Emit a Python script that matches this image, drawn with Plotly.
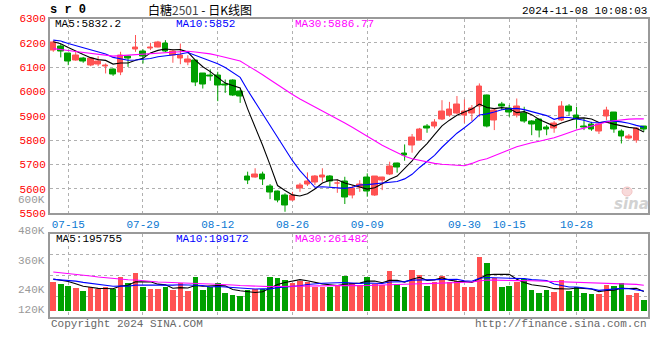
import numpy as np
import plotly.graph_objects as go

# ---------------- data ----------------
dates = ["07-11", "07-12", "07-15", "07-16", "07-17", "07-18", "07-19", "07-22", "07-23", "07-24",
         "07-25", "07-26", "07-29", "07-30", "07-31", "08-01", "08-02", "08-05", "08-06", "08-07",
         "08-08", "08-09", "08-12", "08-13", "08-14", "08-15", "08-16", "08-19", "08-20", "08-21",
         "08-22", "08-23", "08-26", "08-27", "08-28", "08-29", "08-30", "09-02", "09-03", "09-04",
         "09-05", "09-06", "09-09", "09-10", "09-11", "09-12", "09-13", "09-18", "09-19", "09-20",
         "09-23", "09-24", "09-25", "09-26", "09-27", "09-30", "10-08", "10-09", "10-10", "10-11",
         "10-14", "10-15", "10-16", "10-17", "10-18", "10-21", "10-22", "10-23", "10-24", "10-25",
         "10-28", "10-29", "10-30", "10-31", "11-01", "11-04", "11-05", "11-06", "11-07", "11-08"]

open_ = [6170, 6185, 6156, 6129, 6136, 6105, 6112, 6104, 6091, 6077,
         6142, 6173, 6166, 6178, 6182, 6197, 6149, 6136, 6118, 6126,
         6074, 6066, 6067, 6029, 6047, 5998, 5649, 5647, 5660, 5608,
         5587, 5574, 5553, 5599, 5619, 5624, 5645, 5649, 5620, 5631,
         5574, 5605, 5647, 5571, 5633, 5660, 5704, 5745, 5776, 5800,
         5855, 5857, 5885, 5903, 5910, 5903, 5910, 5937, 5985, 5879,
         5948, 5930, 5899, 5910, 5875, 5886, 5852, 5848, 5882, 5937,
         5903, 5854, 5866, 5834, 5896, 5912, 5834, 5805, 5797, 5855]
high = [6209, 6195, 6156, 6163, 6142, 6142, 6145, 6115, 6095, 6163,
        6149, 6232, 6173, 6200, 6208, 6211, 6173, 6197, 6149, 6126,
        6074, 6091, 6081, 6049, 6050, 6008, 5670, 5684, 5670, 5619,
        5592, 5581, 5587, 5624, 5667, 5656, 5684, 5656, 5638, 5649,
        5615, 5635, 5663, 5652, 5649, 5711, 5707, 5782, 5825, 5850,
        5866, 5886, 5964, 5957, 5981, 5967, 5944, 6033, 5987, 5930,
        5957, 5944, 5971, 5937, 5882, 5886, 5862, 5878, 5960, 5948,
        5937, 5889, 5875, 5869, 5937, 5912, 5844, 5825, 5852, 5858]
low = [6163, 6140, 6108, 6126, 6118, 6104, 6104, 6074, 6064, 6067,
       6101, 6163, 6115, 6170, 6181, 6162, 6118, 6112, 6108, 6022,
       6012, 6044, 5960, 5994, 5981, 5953, 5619, 5645, 5615, 5557,
       5544, 5505, 5550, 5587, 5611, 5615, 5629, 5608, 5583, 5537,
       5560, 5587, 5567, 5570, 5594, 5656, 5666, 5715, 5748, 5798,
       5830, 5848, 5882, 5896, 5907, 5871, 5878, 5896, 5852, 5841,
       5923, 5896, 5893, 5871, 5820, 5811, 5820, 5830, 5878, 5899,
       5848, 5841, 5838, 5825, 5882, 5830, 5786, 5803, 5789, 5834]
close = [6201, 6166, 6122, 6146, 6125, 6136, 6125, 6106, 6070, 6149,
         6136, 6181, 6145, 6182, 6200, 6166, 6163, 6149, 6132, 6035,
         6029, 6062, 6023, 6023, 5985, 5978, 5633, 5660, 5636, 5583,
         5553, 5530, 5571, 5612, 5631, 5649, 5653, 5629, 5622, 5563,
         5601, 5619, 5587, 5649, 5645, 5693, 5686, 5738, 5811, 5844,
         5848, 5871, 5919, 5927, 5945, 5916, 5930, 6022, 5855, 5923,
         5937, 5912, 5937, 5875, 5862, 5838, 5844, 5869, 5937, 5916,
         5885, 5850, 5845, 5866, 5923, 5844, 5814, 5814, 5848, 5844]

# volume, in thousands (K)
volume_k = [294, 271, 250, 227, 200, 237, 217, 243, 217, 339,
            278, 385, 243, 220, 220, 243, 210, 278, 200, 345,
            210, 237, 284, 183, 159, 149, 210, 220, 220, 345,
            335, 311, 284, 301, 288, 243, 243, 240, 261, 352,
            284, 261, 339, 271, 261, 403, 271, 243, 413, 362,
            250, 294, 352, 294, 304, 240, 240, 548, 487, 329,
            237, 250, 294, 321, 210, 183, 210, 193, 311, 200,
            237, 183, 169, 169, 264, 250, 284, 159, 176, 108]

# warm-up values before the visible window (estimated from the MA lines' starting levels)
prior_close = [6250, 6260, 6270, 6255, 6245, 6250, 6262, 6120, 6090, 6080,
               6100, 6110, 6095, 6105, 6100, 6110, 6120, 6100, 6115, 6130,
               6200, 6225, 6230, 6215, 6220, 6205, 6200, 6210, 6205]
prior_volume_k = [470, 495, 510, 460, 480, 500, 465, 490, 475, 485,
                  470, 480, 490, 340, 320, 335, 330, 345, 325, 335,
                  310, 320, 305, 325, 315, 330, 320, 335, 327]

date_ticks = ["07-15", "07-29", "08-12", "08-26", "09-09", "09-30", "10-15", "10-28"]
price_ticks = [5500, 5600, 5700, 5800, 5900, 6000, 6100, 6200, 6300]
vol_tick_text = ["600K", "480K", "360K", "240K", "120K"]

title_text = "白糖<span style='color:#444'>2501</span> - 日K线图"
symbol_text = "s r 0"
time_text = "2024-11-08 10:08:03"
ma_price_text = ["MA5:5832.2", "MA10:5852", "MA30:5886.77"]
ma_vol_text = ["MA5:195755", "MA10:199172", "MA30:261482"]

# ---------------- derived ----------------
n = len(close)
x = np.arange(n)
o = np.array(open_, float); c = np.array(close, float)
h = np.array(high, float); l = np.array(low, float)
v = np.array(volume_k, float)
up = c >= o

def moving(prior, vals, w):
    full = np.concatenate([np.array(prior, float), np.array(vals, float)])
    off = len(prior)
    return [full[k - w + 1:k + 1].mean() for k in range(off, off + len(vals))]

RED = "#ff5252"
GREEN = "#00a000"
MA_COLORS = ["#000000", "#0000ff", "#ff00ff"]
MONO = "Liberation Mono"

fig = go.Figure()

# candle bodies
for mask, col in ((up, RED), (~up, GREEN)):
    idx = x[mask]
    fig.add_trace(go.Bar(x=idx, y=(c - o)[mask], base=o[mask], width=0.76,
                         marker=dict(color=col, line=dict(color=col, width=1)),
                         xaxis="x", yaxis="y", showlegend=False, hoverinfo="skip"))
# wicks
for mask, col in ((up, RED), (~up, GREEN)):
    wx, wy = [], []
    for i in x[mask]:
        wx += [i, i, None]
        wy += [l[i], h[i], None]
    fig.add_trace(go.Scatter(x=wx, y=wy, mode="lines", line=dict(color=col, width=1),
                             xaxis="x", yaxis="y", showlegend=False, hoverinfo="skip"))
# price MAs
for w, col in zip((5, 10, 30), MA_COLORS):
    fig.add_trace(go.Scatter(x=x, y=moving(prior_close, close, w), mode="lines",
                             line=dict(color=col, width=1.1), xaxis="x", yaxis="y",
                             showlegend=False, hoverinfo="skip"))

# volume bars
for mask, col in ((up, RED), (~up, GREEN)):
    fig.add_trace(go.Bar(x=x[mask], y=v[mask], width=0.75,
                         marker=dict(color=col, line=dict(width=0)),
                         xaxis="x2", yaxis="y2", showlegend=False, hoverinfo="skip"))
for w, col in zip((5, 10, 30), MA_COLORS):
    fig.add_trace(go.Scatter(x=x, y=moving(prior_volume_k, volume_k, w), mode="lines",
                             line=dict(color=col, width=1.1), xaxis="x2", yaxis="y2",
                             showlegend=False, hoverinfo="skip"))

# ---------------- layout ----------------
W, H = 660, 360
L, R, T, B = 50, 10, 18, 43
PW, PH = W - L - R, H - T - B

def xp(px):
    return (px - L) / PW

def yp(py):
    return (H - B - py) / PH

xr = [-0.44, n - 0.44]
vol_range = [-(317 - 310.7) * 10.14, (310.7 - 234) * 10.14]
vol_grid = [vol_range[0] + (vol_range[1] - vol_range[0]) * f for f in (0.25, 0.5, 0.75)]
tickpos = [dates.index(d) for d in date_ticks]

frame = dict(showline=True, linecolor="#999999", linewidth=2, mirror=True, zeroline=False)
grid = dict(showgrid=True, gridcolor="#b0b0b0", griddash="dot", gridwidth=1)

fig.update_layout(
    width=W, height=H, margin=dict(l=L, r=R, t=T, b=B, pad=0),
    paper_bgcolor="white", plot_bgcolor="white", barmode="overlay", bargap=0,
    xaxis=dict(domain=[0, 1], range=xr, anchor="y", tickvals=tickpos, ticktext=date_ticks,
               tickfont=dict(family=MONO, size=11, color="#0a78d2"), ticks="",
               **grid, **frame),
    yaxis=dict(domain=[yp(213), yp(18.5)], range=[5500, 6300], anchor="x",
               tickvals=price_ticks, ticktext=[str(p) for p in price_ticks],
               tickfont=dict(family=MONO, size=11, color="#ff0000"), ticks="",
               **grid, **frame),
    xaxis2=dict(domain=[0, 1], range=xr, anchor="y2", matches="x", tickvals=tickpos,
                showticklabels=False, ticks="", **grid, **frame),
    yaxis2=dict(domain=[0, yp(234)], range=vol_range, anchor="x2", tickvals=vol_grid,
                showticklabels=False, ticks="", **grid, **frame),
)

ann = []
def add(text, px, py, xanchor="left", color="#000", size=11, family=MONO):
    ann.append(dict(text=text, x=xp(px), y=yp(py), xref="paper", yref="paper",
                    xanchor=xanchor, yanchor="middle", showarrow=False,
                    font=dict(family=family, size=size, color=color)))

add("<b>" + symbol_text + "</b>", 48, 10.5, size=12)
add(title_text, 200, 9, xanchor="center", size=12, family="Noto Sans CJK SC")
add(time_text, 651, 11, xanchor="right", size=11)
for txt, px0, col in zip(ma_price_text, (53, 174, 294), MA_COLORS):
    add(txt, px0, 24.5, color=col)
for txt, px0, col in zip(ma_vol_text, (54, 174, 294), MA_COLORS):
    add(txt, px0, 238.5, color=col)
for txt, py0 in zip(vol_tick_text, (200, 231, 261, 290, 310)):
    add(txt, 47, py0, xanchor="right", color="#999999")
add("Copyright 2024 SINA.COM", 49, 323.5, color="#666666")
add("http://finance.sina.com.cn", 651, 323.5, xanchor="right", color="#666666")
# watermark
add("<b><i>sina</i></b>", 633, 204, xanchor="center", color="#d2d2d2", size=15, family="DejaVu Sans")
fig.update_layout(annotations=ann)
fig.add_shape(type="circle", xref="paper", yref="paper",
              x0=xp(624), x1=xp(634), y0=yp(196), y1=yp(187),
              line=dict(color="#f3c4c4", width=1), fillcolor="#f8dada", layer="below")

fig.write_html("out.html", config={"displayModeBar": False},
               post_script="document.body.style.margin='0';document.body.style.padding='0';")
